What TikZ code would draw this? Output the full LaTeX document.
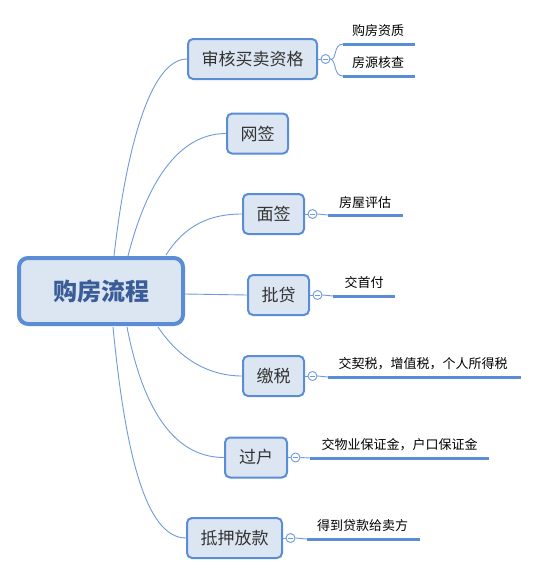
\documentclass[tikz,border=0pt]{standalone}
\usepackage{fontspec}
\setmainfont{Noto Sans CJK SC}
\usetikzlibrary{backgrounds}
\definecolor{bord}{HTML}{5A8DD6}
\definecolor{boxfill}{HTML}{DCE6F2}
\definecolor{conn}{HTML}{6F9BDA}
\definecolor{maintext}{HTML}{3A5D9A}
\definecolor{subtext}{HTML}{333333}
\begin{document}
\begin{tikzpicture}[x=1pt,y=-1pt,
  mainbox/.style={draw=bord,fill=boxfill,line width=4pt,rounded corners=9pt,minimum width=164pt,minimum height=66pt,inner sep=0pt,font=\fontsize{24}{24}\selectfont\bfseries,text=maintext},
  subbox/.style={draw=bord,fill=boxfill,line width=2pt,rounded corners=5pt,minimum height=40pt,inner sep=0pt,font=\fontsize{17}{17}\selectfont,text=subtext},
  link/.style={draw=conn,line width=0.9pt},
  knob/.style={circle,draw=conn,fill=white,line width=0.9pt,minimum size=9pt,inner sep=0pt},
  leafline/.style={draw=bord,line width=3pt},
  leaftext/.style={inner sep=0pt,font=\fontsize{13}{13}\selectfont,text=black}]
\useasboundingbox (0,0) rectangle (538,576);

\node[mainbox] (c) at (101,291) {购房流程};
\coordinate (s1) at (114,256);
\coordinate (s2) at (128,256);
\coordinate (s3) at (166,255);
\coordinate (s5) at (158,327);
\coordinate (s6) at (127,327);
\coordinate (s7) at (113,327);

\node[subbox,minimum width=129pt] (b1) at (252.5,59) {审核买卖资格};
\node[subbox,minimum width=61pt] (b2) at (257.5,133.5) {网签};
\node[subbox,minimum width=61pt] (b3) at (273.5,214) {面签};
\node[subbox,minimum width=61pt] (b4) at (278.5,295) {批贷};
\node[subbox,minimum width=61pt] (b5) at (273.5,376) {缴税};
\node[subbox,minimum width=62pt] (b6) at (256,457.5) {过户};
\node[subbox,minimum width=95pt] (b7) at (234.5,538) {抵押放款};

\begin{scope}[on background layer]
\draw[link] (s1) .. controls (126,150) and (150,59) .. (b1.west);
\draw[link] (s2) .. controls (150,170) and (185,133.5) .. (b2.west);
\draw[link] (s3) .. controls (185,225) and (210,214) .. (b3.west);
\draw[link] (c.east |- 0,294) -- (b4.west);
\draw[link] (s5) .. controls (180,360) and (210,376) .. (b5.west);
\draw[link] (s6) .. controls (145,420) and (180,457.5) .. (b6.west);
\draw[link] (s7) .. controls (125,450) and (145,538) .. (b7.west);
\end{scope}

% knobs
\node[knob] (k1) at ([xshift=7.5pt]b1.east) {};
\node[knob] (k3) at ([xshift=7.5pt]b3.east) {};
\node[knob] (k4) at ([xshift=7.5pt]b4.east) {};
\node[knob] (k5) at ([xshift=7.5pt]b5.east) {};
\node[knob] (k6) at ([xshift=7.5pt]b6.east) {};
\node[knob] (k7) at ([xshift=7.5pt]b7.east) {};
\draw[link] (b1.east) -- (k1.west);
\draw[link] (b3.east) -- (k3.west);
\draw[link] (b4.east) -- (k4.west);
\draw[link] (b5.east) -- (k5.west);
\draw[link] (b6.east) -- (k6.west);
\draw[link] (b7.east) -- (k7.west);
\foreach \k in {k1,k3,k4,k5,k6,k7}{\draw[draw=conn,line width=0.9pt] ([xshift=-2.3pt]\k.center) -- ([xshift=2.3pt]\k.center);}

% leaves
\coordinate (l1a) at (343,44); \coordinate (r1a) at (415,44);
\coordinate (l1b) at (343,76); \coordinate (r1b) at (415,76);
\coordinate (l3) at (328,215); \coordinate (r3) at (403,215);
\coordinate (l4) at (333,296); \coordinate (r4) at (395,296);
\coordinate (l5) at (328,377); \coordinate (r5) at (521,377);
\coordinate (l6) at (310,458); \coordinate (r6) at (489,458);
\coordinate (l7) at (307,539); \coordinate (r7) at (420,539);

\draw[link] (k1.east) .. controls (337,61) and (333,44) .. (l1a);
\draw[link] (k1.east) .. controls (337,61) and (333,76) .. (l1b);
\draw[link] (k3.east) -- (l3);
\draw[link] (k4.east) -- (l4);
\draw[link] (k5.east) -- (l5);
\draw[link] (k6.east) -- (l6);
\draw[link] (k7.east) -- (l7);

\draw[leafline] (l1a) -- (r1a);
\draw[leafline] (l1b) -- (r1b);
\draw[leafline] (l3) -- (r3);
\draw[leafline] (l4) -- (r4);
\draw[leafline] (l5) -- (r5);
\draw[leafline] (l6) -- (r6);
\draw[leafline] (l7) -- (r7);

\node[leaftext] (t1a) at (378,31) {购房资质};
\node[leaftext] (t1b) at (378,63) {房源核查};
\node[leaftext] (t3) at (365,202.5) {房屋评估};
\node[leaftext] (t4) at (364,283) {交首付};
\node[leaftext] (t5) at (423,363.5) {交契税，增值税，个人所得税};
\node[leaftext] (t6) at (399.5,445) {交物业保证金，户口保证金};
\node[leaftext] (t7) at (362.5,525.5) {得到贷款给卖方};
\end{tikzpicture}
\end{document}
